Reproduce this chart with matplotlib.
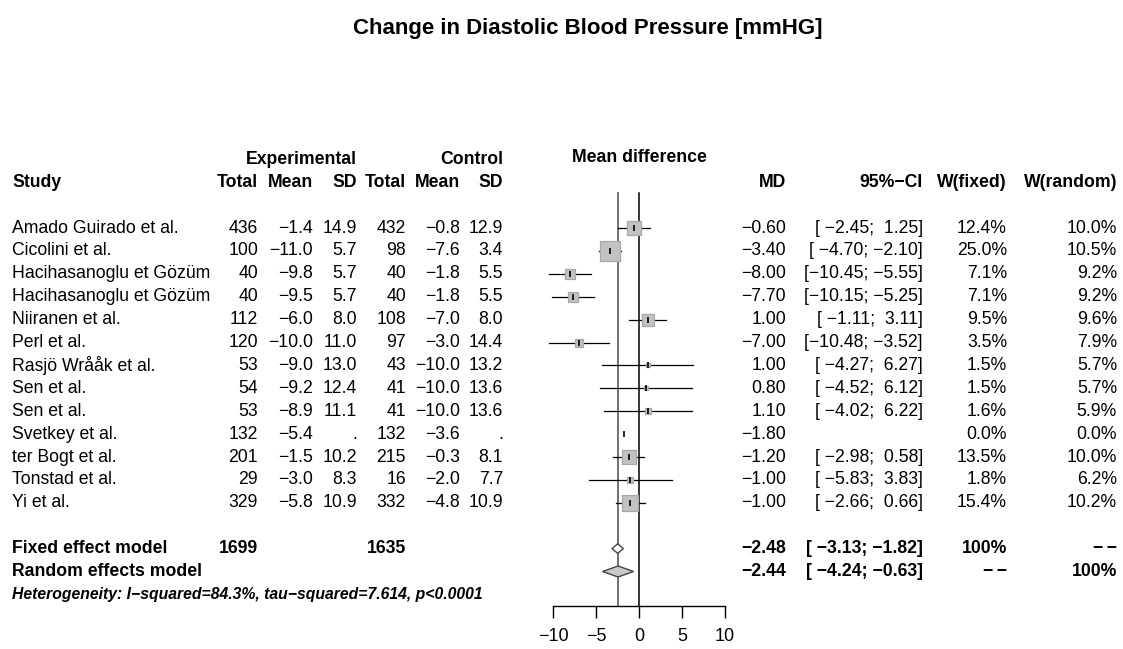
import numpy as np
import matplotlib
matplotlib.use("Agg")
import matplotlib.pyplot as plt
from matplotlib.patches import Polygon

plt.rcParams['font.family'] = ['Liberation Sans', 'DejaVu Sans']

# ---------------- data ----------------
studies = ["Amado Guirado et al.", "Cicolini et al.", "Hacihasanoglu et Gözüm",
           "Hacihasanoglu et Gözüm", "Niiranen et al.", "Perl et al.",
           "Rasjö Wrååk et al.", "Sen et al.", "Sen et al.", "Svetkey et al.",
           "ter Bogt et al.", "Tonstad et al.", "Yi et al."]
exp_n = [436, 100, 40, 40, 112, 120, 53, 54, 53, 132, 201, 29, 329]
exp_mean = [-1.4, -11.0, -9.8, -9.5, -6.0, -10.0, -9.0, -9.2, -8.9, -5.4, -1.5, -3.0, -5.8]
exp_sd = [14.9, 5.7, 5.7, 5.7, 8.0, 11.0, 13.0, 12.4, 11.1, None, 10.2, 8.3, 10.9]
ctrl_n = [432, 98, 40, 40, 108, 97, 43, 41, 41, 132, 215, 16, 332]
ctrl_mean = [-0.8, -7.6, -1.8, -1.8, -7.0, -3.0, -10.0, -10.0, -10.0, -3.6, -0.3, -2.0, -4.8]
ctrl_sd = [12.9, 3.4, 5.5, 5.5, 8.0, 14.4, 13.2, 13.6, 13.6, None, 8.1, 7.7, 10.9]
md = [-0.60, -3.40, -8.00, -7.70, 1.00, -7.00, 1.00, 0.80, 1.10, -1.80, -1.20, -1.00, -1.00]
ci_lo = [-2.45, -4.70, -10.45, -10.15, -1.11, -10.48, -4.27, -4.52, -4.02, None, -2.98, -5.83, -2.66]
ci_hi = [1.25, -2.10, -5.55, -5.25, 3.11, -3.52, 6.27, 6.12, 6.22, None, 0.58, 3.83, 0.66]
w_fixed = [12.4, 25.0, 7.1, 7.1, 9.5, 3.5, 1.5, 1.5, 1.6, 0.0, 13.5, 1.8, 15.4]
w_random = [10.0, 10.5, 9.2, 9.2, 9.6, 7.9, 5.7, 5.7, 5.9, 0.0, 10.0, 6.2, 10.2]

total_exp = 1699
total_ctrl = 1635
fixed_md, fixed_lo, fixed_hi = -2.48, -3.13, -1.82
random_md, random_lo, random_hi = -2.44, -4.24, -0.63
heterogeneity = "Heterogeneity: I\u2212squared=84.3%, tau\u2212squared=7.614, p<0.0001"
title = "Change in Diastolic Blood Pressure [mmHG]"
xticks = [-10, -5, 0, 5, 10]

# ---------------- helpers ----------------
M = "\u2212"
DASH = "-\u2009-".replace("-", M)
def f(v, d=1):
    if v is None:
        return "."
    s = f"{v:.{d}f}"
    return s.replace("-", M)

def ci_str(lo, hi):
    if lo is None:
        return ""
    a = f"{lo:.2f}".rjust(6)
    b = f"{hi:.2f}".rjust(5)
    return ("[" + a + "; " + b + "]").replace("-", M)

# ---------------- layout ----------------
W, H = 1123, 649
fig = plt.figure(figsize=(W / 100, H / 100), dpi=100)
y0px, step = 228.0, 22.9
def row_of(px):
    return (px - y0px) / step

tab = fig.add_axes([0, 0, 1, 1])
tab.set_xlim(0, W)
tab.set_ylim(row_of(H), row_of(0))
tab.axis("off")

x_left_px, x_right_px = 553.0, 725.0
axis_px = 606.0
fa = fig.add_axes([x_left_px / W, 1 - axis_px / H, (x_right_px - x_left_px) / W, axis_px / H])
fa.set_xlim(-10, 10)
fa.set_ylim(row_of(axis_px), row_of(0))
fa.patch.set_alpha(0)
for s in ["top", "left", "right"]:
    fa.spines[s].set_visible(False)
fa.spines["bottom"].set_linewidth(1.0)
fa.set_yticks([])
fa.set_xticks(xticks)
fa.set_xticklabels([f(t, 0) if t != 0 else "0" for t in xticks])
fa.tick_params(axis="x", direction="out", length=8.5, width=1.0, labelsize=13, pad=7)

FS = 12.7
rows = np.arange(len(studies))
fixed_y, random_y, het_y = 14, 15, 16
top_line = row_of(193)

# vertical lines
fa.plot([0, 0], [top_line, row_of(axis_px)], color="black", lw=1.1, clip_on=False, zorder=1)
fa.plot([fixed_md, fixed_md], [top_line, row_of(axis_px)], color="#666666", lw=1.3, clip_on=False, zorder=1)

# study marks
for i in rows:
    if ci_lo[i] is not None:
        fa.plot([ci_lo[i], ci_hi[i]], [i, i], color="black", lw=0.9, clip_on=False, zorder=2)
    if w_fixed[i] > 0:
        side_px = 20.0 * np.sqrt(w_fixed[i] / 25.0)
        fa.scatter([md[i]], [i], marker="s", s=(side_px * 0.72) ** 2, color="#c2c2c2",
                   edgecolors="#a8a8a8", linewidths=0.9, zorder=3, clip_on=False)
    fa.plot([md[i]], [i], marker="|", markersize=4.5, markeredgewidth=1.2, color="black",
            zorder=4, clip_on=False)

# diamonds
def diamond(y, lo, mid, hi, h, fc):
    p = Polygon([[lo, y], [mid, y - h], [hi, y], [mid, y + h]], closed=True,
                facecolor=fc, edgecolor="#444444", lw=1.0, zorder=5, clip_on=False)
    fa.add_patch(p)
diamond(fixed_y, fixed_lo, fixed_md, fixed_hi, 0.21, "white")
diamond(random_y, random_lo, random_md, random_hi, 0.24, "#c8c8c8")

# title
tab.text(588, row_of(28), title, ha="center", va="center", fontsize=16, fontweight="bold")

# headers
hb = dict(va="center", fontsize=FS, fontweight="bold")
tab.text(12, -2, "Study", ha="left", **hb)
tab.text(357, -3, "Experimental", ha="right", **hb)
tab.text(503, -3, "Control", ha="right", **hb)
tab.text(639, -3.1, "Mean difference", ha="center", **hb)
cols_hdr = [(258, "Total"), (313, "Mean"), (357, "SD"), (406, "Total"), (460, "Mean"),
            (503, "SD"), (786, "MD"), (923, "95%\u2212CI"), (1007, "W(fixed)"), (1117, "W(random)")]
for x, t in cols_hdr:
    tab.text(x, -2, t, ha="right", **hb)

# body
for i in rows:
    kw = dict(va="center", fontsize=FS)
    tab.text(12, i, studies[i], ha="left", **kw)
    tab.text(258, i, str(exp_n[i]), ha="right", **kw)
    tab.text(313, i, f(exp_mean[i]), ha="right", **kw)
    tab.text(357, i, f(exp_sd[i]), ha="right", **kw)
    tab.text(406, i, str(ctrl_n[i]), ha="right", **kw)
    tab.text(460, i, f(ctrl_mean[i]), ha="right", **kw)
    tab.text(503, i, f(ctrl_sd[i]), ha="right", **kw)
    tab.text(786, i, f(md[i], 2), ha="right", **kw)
    tab.text(923, i, ci_str(ci_lo[i], ci_hi[i]), ha="right", **kw)
    tab.text(1007, i, f"{w_fixed[i]:.1f}%", ha="right", **kw)
    tab.text(1117, i, f"{w_random[i]:.1f}%", ha="right", **kw)

# model rows
tab.text(12, fixed_y, "Fixed effect model", ha="left", **hb)
tab.text(258, fixed_y, str(total_exp), ha="right", **hb)
tab.text(406, fixed_y, str(total_ctrl), ha="right", **hb)
tab.text(786, fixed_y, f(fixed_md, 2), ha="right", **hb)
tab.text(923, fixed_y, ci_str(fixed_lo, fixed_hi), ha="right", **hb)
tab.text(1007, fixed_y, "100%", ha="right", **hb)
tab.text(1117, fixed_y, DASH, ha="right", **hb)

tab.text(12, random_y, "Random effects model", ha="left", **hb)
tab.text(786, random_y, f(random_md, 2), ha="right", **hb)
tab.text(923, random_y, ci_str(random_lo, random_hi), ha="right", **hb)
tab.text(1007, random_y, DASH, ha="right", **hb)
tab.text(1117, random_y, "100%", ha="right", **hb)

tab.text(12, het_y, heterogeneity, ha="left", va="center", fontsize=11.3,
         fontweight="bold", fontstyle="italic")

fig.savefig("out.png", dpi=100)
